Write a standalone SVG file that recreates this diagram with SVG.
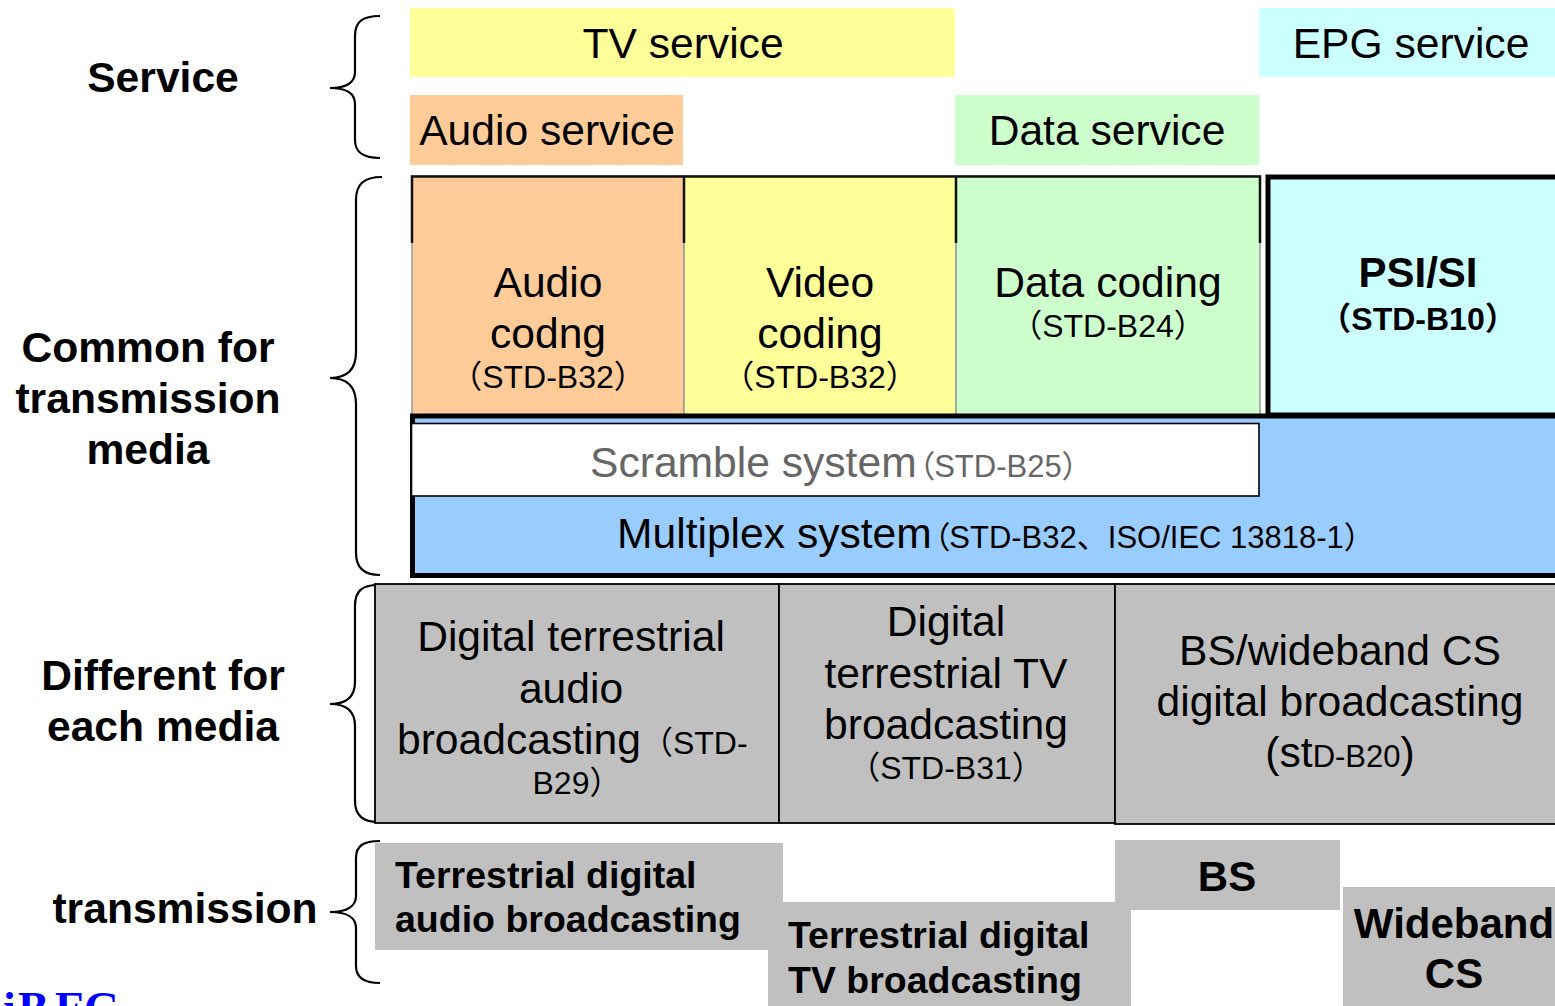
<svg xmlns="http://www.w3.org/2000/svg" width="1555" height="1006" viewBox="0 0 1555 1006">
  <style>
    text { font-family: "Liberation Sans", "Noto Sans CJK JP", sans-serif; fill: #000; }
    .lbl { font-size: 42.6px; font-weight: bold; text-anchor: middle; }
    .t42 { font-size: 42.6px; text-anchor: middle; }
    .t30 { font-size: 31px; }
    .c32 { font-size: 32px; text-anchor: middle; }
    .tb37 { font-size: 37.5px; font-weight: bold; }
    .tb42 { font-size: 42px; font-weight: bold; text-anchor: middle; }
    .narrow { font-feature-settings: "palt" 1; }
    .brace { fill: none; stroke: #000; stroke-width: 2.2; }
    .gray { fill: #C0C0C0; }
    .cell { fill: #C0C0C0; stroke: #000; stroke-width: 1.8; }
    .codebox { stroke: #999; stroke-width: 1.5; }
  </style>

  <!-- layer labels -->
  <g id="labels">
    <text class="lbl" x="163" y="92">Service</text>
    <text class="lbl" x="148" y="362">Common for</text>
    <text class="lbl" x="148" y="413">transmission</text>
    <text class="lbl" x="148" y="464">media</text>
    <text class="lbl" x="163" y="690">Different for</text>
    <text class="lbl" x="163" y="741">each media</text>
    <text class="lbl" x="185" y="923">transmission</text>
  </g>

  <!-- curly braces grouping the layers -->
  <g id="braces">
    <path class="brace" d="M380,16 C362,16 355,22 355,36 L355,72 C355,83 346,88 330,88 C346,88 355,93 355,104 L355,140 C355,152 362,158 380,158"/>
    <path class="brace" d="M382,177 C364,177 356,184 356,200 L356,352 C356,369 348,378 330,378 C348,378 356,387 356,404 L356,553 C356,568 364,575 380,575"/>
    <path class="brace" d="M378,585 C362,585 355,591 355,606 L355,682 C355,696 347,704 330,704 C347,704 355,712 355,726 L355,801 C355,815 362,822 378,822"/>
    <path class="brace" d="M380,841 C363,841 356,846 356,858 L356,896 C356,906 347,912 330,912 C347,912 356,918 356,928 L356,966 C356,977 363,983 380,983"/>
  </g>

  <!-- service layer -->
  <g id="tv-service">
    <rect x="410" y="8" width="545" height="69" fill="#FFFF99"/>
    <text class="t42" x="683" y="58">TV service</text>
  </g>
  <g id="epg-service">
    <rect x="1259" y="8" width="296" height="69" fill="#CCFFFF"/>
    <text class="t42" x="1411" y="58">EPG service</text>
  </g>
  <g id="audio-service">
    <rect x="410" y="95" width="273" height="70" fill="#FFCC99"/>
    <text class="t42" x="547" y="145">Audio service</text>
  </g>
  <g id="data-service">
    <rect x="955" y="95" width="304" height="70" fill="#CCFFCC"/>
    <text class="t42" x="1107" y="145">Data service</text>
  </g>

  <!-- coding layer -->
  <g id="audio-coding">
    <rect class="codebox" x="412" y="176" width="272" height="239" fill="#FFCC99"/>
    <text class="t42" x="548" y="297">Audio</text>
    <text class="t42" x="548" y="348">codng</text>
    <text class="c32" x="548" y="388">（STD-B32）</text>
  </g>
  <g id="video-coding">
    <rect class="codebox" x="684" y="176" width="272" height="239" fill="#FFFF99"/>
    <text class="t42" x="820" y="297">Video</text>
    <text class="t42" x="820" y="348">coding</text>
    <text class="c32" x="820" y="388">（STD-B32）</text>
  </g>
  <g id="data-coding">
    <rect class="codebox" x="956" y="176" width="304" height="239" fill="#CCFFCC"/>
    <text class="t42" x="1108" y="297">Data coding</text>
    <text class="c32" x="1108" y="337">（STD-B24）</text>
  </g>
  <!-- dark top edge of the coding boxes -->
  <path d="M412,243 V176.5 H1260 V243 M684,176.5 V243 M956,176.5 V243" fill="none" stroke="#111" stroke-width="2.5"/>

  <g id="psi-si">
    <rect x="1268" y="177" width="300" height="238" fill="#CCFFFF" stroke="#000" stroke-width="5"/>
    <text class="tb42" x="1418" y="287">PSI/SI</text>
    <text class="c32" x="1418" y="330" font-weight="bold">（STD-B10）</text>
  </g>

  <!-- multiplex and scramble -->
  <g id="multiplex">
    <rect x="412.5" y="416" width="1160" height="159.5" fill="#99CCFF" stroke="#000" stroke-width="5"/>
    <text x="617" y="548" style="font-size:42.6px">Multiplex system<tspan class="t30 narrow" dx="2">（</tspan><tspan class="t30">STD-B32、ISO/IEC 13818-1）</tspan></text>
  </g>
  <g id="scramble">
    <rect x="411.5" y="423.5" width="847.5" height="72.5" fill="#FFF" stroke="#000" stroke-width="1.6"/>
    <text x="590" y="477" style="font-size:42.6px; fill:#666">Scramble system<tspan class="t30 narrow" dx="2" style="fill:#666">（</tspan><tspan class="t30" style="fill:#666">STD-B25）</tspan></text>
  </g>

  <!-- media-specific layer -->
  <g id="terrestrial-audio">
    <rect class="cell" x="375" y="584" width="404" height="239"/>
    <text class="t42" x="571" y="651">Digital terrestrial</text>
    <text class="t42" x="571" y="703">audio</text>
    <text x="397" y="754" style="font-size:42.6px">broadcasting<tspan style="font-size:32px">（STD-</tspan></text>
    <text class="c32" x="577" y="794">B29）</text>
  </g>
  <g id="terrestrial-tv">
    <rect class="cell" x="779" y="584" width="336" height="239"/>
    <text class="t42" x="946" y="636">Digital</text>
    <text class="t42" x="946" y="688">terrestrial TV</text>
    <text class="t42" x="946" y="739">broadcasting</text>
    <text class="c32" x="946" y="779">（STD-B31）</text>
  </g>
  <g id="bs-cs">
    <rect class="cell" x="1115" y="584" width="460" height="240"/>
    <text class="t42" x="1340" y="665">BS/wideband CS</text>
    <text class="t42" x="1340" y="716">digital broadcasting</text>
    <text class="t42" x="1340" y="767">(st<tspan class="t30">D-B20</tspan>)</text>
  </g>

  <!-- transmission layer -->
  <g id="tx-terrestrial-audio">
    <rect class="gray" x="375" y="843" width="408" height="107"/>
    <text class="tb37" x="395" y="888">Terrestrial digital</text>
    <text class="tb37" x="395" y="932">audio broadcasting</text>
  </g>
  <g id="tx-terrestrial-tv">
    <rect class="gray" x="768" y="902" width="363" height="104"/>
    <text class="tb37" x="788" y="948">Terrestrial digital</text>
    <text class="tb37" x="788" y="993">TV broadcasting</text>
  </g>
  <g id="tx-bs">
    <rect class="gray" x="1115" y="840" width="225" height="70"/>
    <text class="tb42" x="1227" y="891">BS</text>
  </g>
  <g id="tx-wideband-cs">
    <rect class="gray" x="1343" y="887" width="212" height="119"/>
    <text class="tb42" x="1454" y="938">Wideband</text>
    <text class="tb42" x="1454" y="988">CS</text>
  </g>

  <!-- logo text, mostly below the visible area -->
  <text x="-32 3 18 55 84" y="1024" style="font-family:'Liberation Serif', serif; font-size:46px; font-weight:bold; fill:#0000FF">DiBEG</text>
</svg>
